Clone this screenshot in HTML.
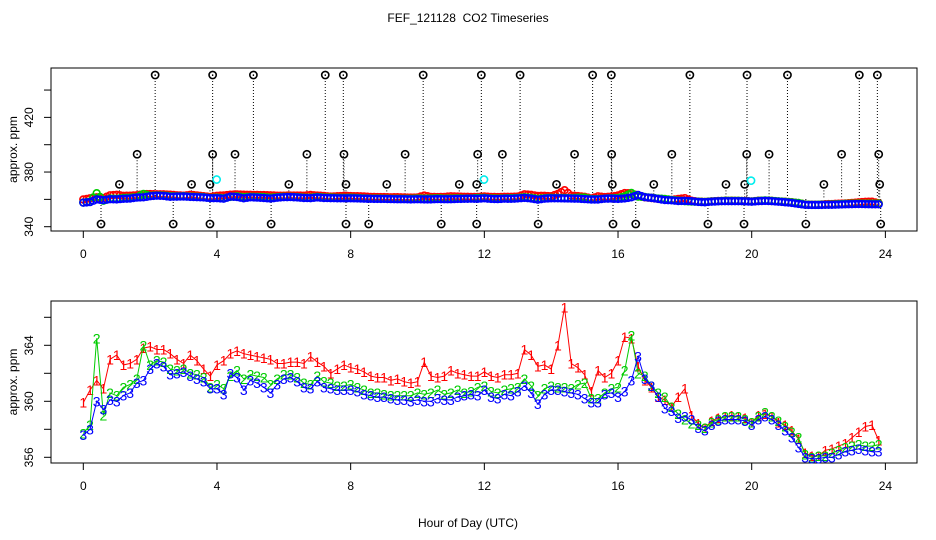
<!DOCTYPE html>
<html><head><meta charset="utf-8"><style>
body{margin:0;background:#fff}
svg{display:block;font-family:"Liberation Sans",sans-serif}
</style></head><body>
<svg id="chart" width="936" height="540" viewBox="0 0 936 540" xmlns="http://www.w3.org/2000/svg">
<rect width="936" height="540" fill="#fff"/>
<text x="468" y="22" font-size="12" text-anchor="middle" xml:space="preserve">FEF_121128  CO2 Timeseries</text>
<text x="468" y="527" font-size="12" text-anchor="middle">Hour of Day (UTC)</text>
<g id="topPanel"></g>
<g id="botPanel"></g>
</svg>
<script>
const hours=[0,0.2,0.4,0.6,0.8,1,1.2,1.4,1.6,1.8,2,2.2,2.4,2.6,2.8,3,3.2,3.4,3.6,3.8,4,4.2,4.4,4.6,4.8,5,5.2,5.4,5.6,5.8,6,6.2,6.4,6.6,6.8,7,7.2,7.4,7.6,7.8,8,8.2,8.4,8.6,8.8,9,9.2,9.4,9.6,9.8,10,10.2,10.4,10.6,10.8,11,11.2,11.4,11.6,11.8,12,12.2,12.4,12.6,12.8,13,13.2,13.4,13.6,13.8,14,14.2,14.4,14.6,14.8,15,15.2,15.4,15.6,15.8,16,16.2,16.4,16.6,16.8,17,17.2,17.4,17.6,17.8,18,18.2,18.4,18.6,18.8,19,19.2,19.4,19.6,19.8,20,20.2,20.4,20.6,20.8,21,21.2,21.4,21.6,21.8,22,22.2,22.4,22.6,22.8,23,23.2,23.4,23.6,23.8];
const series1=[359.9,360.8,361.5,360.9,363.0,363.3,362.6,362.7,363.0,363.8,363.9,363.7,363.7,363.4,363.0,362.7,363.3,362.9,362.3,361.8,362.6,362.9,363.4,363.6,363.4,363.3,363.2,363.1,363.0,362.7,362.7,362.8,362.8,362.7,363.2,362.8,362.5,362.0,362.3,362.6,362.4,362.3,362.1,361.8,361.7,361.7,361.5,361.6,361.4,361.3,361.4,362.8,361.8,361.7,361.8,362.2,362.0,361.9,361.8,361.8,362.1,361.8,361.7,361.9,361.9,362.0,363.7,363.3,362.5,362.6,362.3,364.0,366.7,362.7,362.4,361.9,360.7,362.2,361.7,362.0,362.9,364.6,364.5,362.5,361.5,361.0,360.3,360.1,359.6,360.3,360.9,359.0,358.4,358.1,358.6,358.8,358.9,359.0,358.9,358.8,358.5,359.0,359.1,358.9,358.5,358.3,357.9,357.3,356.3,356.1,356.1,356.5,356.6,356.8,357.0,357.4,357.8,358.2,358.3,357.2];
const series2=[357.7,358.3,364.5,359.0,360.6,360.4,361.0,361.2,361.6,364.0,362.6,362.9,362.8,362.3,362.2,362.3,362.0,361.9,361.7,361.0,361.2,360.9,361.8,362.2,361.6,361.9,361.8,361.7,361.2,361.6,361.9,361.9,361.7,361.3,361.2,361.8,361.4,361.3,361.1,361.1,361.2,361.0,360.8,360.6,360.6,360.5,360.4,360.4,360.4,360.4,360.6,360.5,360.6,360.8,360.5,360.6,360.8,360.6,360.7,361.0,361.1,360.7,360.6,360.8,360.9,361.0,361.6,361.1,360.4,360.9,361.1,361.0,361.0,360.9,361.2,361.3,360.2,360.2,360.6,360.9,361.0,362.2,364.7,362.0,361.8,361.1,360.6,360.3,359.6,359.1,358.7,358.4,358.3,358.1,358.5,358.7,358.9,358.9,358.9,358.7,358.5,358.9,359.2,358.9,358.6,358.2,357.8,357.4,356.2,356.0,356.1,356.1,356.3,356.5,356.7,356.8,356.9,356.8,356.8,356.9];
const series3=[357.6,358.0,360.0,359.4,360.1,360.0,360.4,360.6,361.3,361.5,362.3,362.7,362.5,361.9,362.0,362.1,361.8,361.6,361.4,360.9,360.9,360.5,362.0,361.7,360.8,361.5,361.3,361.0,360.6,361.2,361.6,361.7,361.4,361.0,360.9,361.4,361.0,360.9,360.8,360.8,360.8,360.7,360.5,360.4,360.3,360.3,360.2,360.1,360.1,360.0,360.1,360.0,360.0,360.2,360.1,360.1,360.3,360.4,360.5,360.4,360.8,360.3,360.2,360.5,360.4,360.7,361.1,360.6,359.8,360.5,360.8,360.8,360.7,360.6,360.5,360.2,359.9,359.9,360.5,360.6,360.3,360.7,361.5,363.2,361.6,361.1,360.3,359.5,359.3,358.8,358.9,358.7,358.1,357.9,358.3,358.6,358.7,358.7,358.7,358.6,358.3,358.7,358.9,358.7,358.3,357.9,357.4,356.7,356.0,355.9,355.9,356.0,356.0,356.2,356.4,356.5,356.6,356.5,356.4,356.4];
const outlierHours=[0.53,1.08,1.61,2.15,2.69,3.24,3.79,3.79,3.87,3.87,4.54,5.09,5.62,6.15,6.69,7.24,7.78,7.80,7.86,7.86,8.54,9.08,9.63,10.17,10.71,11.25,11.77,11.77,11.80,11.91,12.54,13.07,13.61,14.16,14.70,15.24,15.80,15.81,15.83,15.85,16.53,17.07,17.61,18.15,18.69,19.23,19.77,19.79,19.85,19.86,20.52,21.07,21.62,22.16,22.69,23.22,23.76,23.80,23.83,23.86];
const outlierValues=[342,371,393,451,342,371,342,371,393,451,393,451,342,371,393,451,451,393,371,342,342,371,393,451,342,371,342,371,393,451,393,451,342,371,393,451,451,393,371,342,342,371,393,451,342,371,342,371,393,451,393,451,342,371,393,451,451,393,371,342];
const cyanHours=[3.99,11.99,19.98];
const cyanValues=[374.5,374.5,373.7];
const xTicks=[0,4,8,12,16,20,24];
const topYTicks=[340,360,380,400,420,440];
const topYLabels=[340,380,420];
const botYTicks=[356,358,360,362,364,366];
const botYLabels=[356,360,364];

const NS="http://www.w3.org/2000/svg";
function el(p,tag,attrs,txt){const e=document.createElementNS(NS,tag);for(const k in attrs)e.setAttribute(k,attrs[k]);if(txt!==undefined)e.textContent=txt;p.appendChild(e);return e;}
const X=h=>83.3+h*33.42;
const Ytop=v=>226.7-(v-340)*1.3665;
const Ybot=v=>401.3-(v-360)*14;

function frame(g,y0,y1,yTicks,yLabels,Y,name){
  const box=el(g,'rect',{x:51,y:y0,width:866,height:y1-y0,fill:'none',stroke:'#000','stroke-width':1});
  
  
  xTicks.forEach(t=>{
    const l=el(g,'line',{x1:X(t),x2:X(t),y1:y1,y2:y1+7,stroke:'#000'});
    
    
    const tx=el(g,'text',{x:X(t),y:y1+27,'font-size':12,'text-anchor':'middle'},String(t));
    
    
  });
  yTicks.forEach(v=>{
    const l=el(g,'line',{x1:44,x2:51,y1:Y(v),y2:Y(v),stroke:'#000'});
    
    
  });
  yLabels.forEach(v=>{
    const tx=el(g,'text',{x:0,y:0,'font-size':12,'text-anchor':'middle',transform:`translate(33,${Y(v)}) rotate(-90)`},String(v));
    
    
  });
  const yt=el(g,'text',{x:0,y:0,'font-size':12,'text-anchor':'middle',transform:`translate(17,${(y0+y1)/2}) rotate(-90)`},'approx. ppm');
  
  
}

// TOP PANEL
const topG=document.getElementById('topPanel');
frame(topG,68,231,topYTicks,topYLabels,Ytop,'top');
outlierHours.forEach((h,i)=>{
  const l=el(topG,'line',{x1:X(h),x2:X(h),y1:Ytop(outlierValues[i]),y2:Ytop(361),stroke:'#000','stroke-width':1,'stroke-dasharray':'1,2'});
  
  
});
[[series1,'#f00','series-1'],[series2,'#0c0','series-2'],[series3,'#00f','series-3']].forEach(([s,c,n])=>{
  s.forEach((v,i)=>{
    const ci=el(topG,'circle',{cx:X(hours[i]),cy:Ytop(v),r:3.4,fill:'none',stroke:c,'stroke-width':1.6});
    
    
    if(i<s.length-1){
      const ci2=el(topG,'circle',{cx:(X(hours[i])+X(hours[i+1]))/2,cy:Ytop((v+s[i+1])/2),r:3.4,fill:'none',stroke:c,'stroke-width':1.6});
      
      
    }
  });
});
outlierHours.forEach((h,i)=>{
  const ci=el(topG,'circle',{cx:X(h),cy:Ytop(outlierValues[i]),r:3.6,fill:'none',stroke:'#000','stroke-width':1.6});
  
  
  const d=el(topG,'circle',{cx:X(h),cy:Ytop(outlierValues[i]),r:0.8,fill:'#000'});
  
  
});
cyanHours.forEach((h,i)=>{
  const ci=el(topG,'circle',{cx:X(h),cy:Ytop(cyanValues[i]),r:3.6,fill:'none',stroke:'#0ee','stroke-width':1.6});
  
  
});

// BOTTOM PANEL
const botG=document.getElementById('botPanel');
frame(botG,301,463,botYTicks,botYLabels,Ybot,'bottom');
[[series1,'#f00','1','series-1'],[series2,'#0c0','2','series-2'],[series3,'#00f','3','series-3']].forEach(([s,c,ch,n])=>{
  const pts=s.map((v,i)=>X(hours[i]).toFixed(1)+','+Ybot(v).toFixed(1)).join(' ');
  const pl=el(botG,'polyline',{points:pts,fill:'none',stroke:c,'stroke-width':1});
  
  
  s.forEach((v,i)=>{
    const t=el(botG,'text',{x:X(hours[i]),y:Ybot(v)+5,'font-size':14,'text-anchor':'middle',fill:c},ch);
    
    
  });
});
</script>
</body></html>
